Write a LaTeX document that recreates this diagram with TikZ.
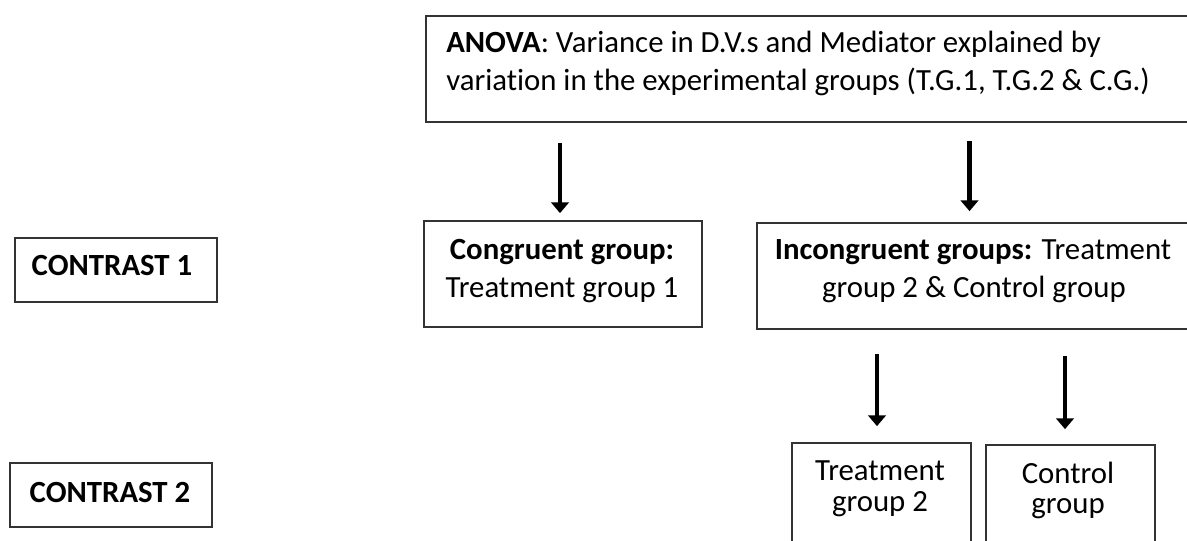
\documentclass[tikz,border=0pt]{standalone}
\usepackage{fontspec}
\setmainfont{Carlito}[Ligatures=NoCommon]
\usetikzlibrary{arrows.meta,calc,fit}

\tikzset{
  frame/.style={draw=black!80, line width=1.3pt, inner sep=0pt, fill=none},
  txt/.style={inner sep=0pt, anchor=base, font=\fontsize{23.1pt}{27pt}\selectfont},
  txtl/.style={txt, anchor=base west},
  flow/.style={draw=black, line width=3.6pt,
    -{Triangle[width=13pt,length=8pt]}},
}

\begin{document}
\begin{tikzpicture}[x=0.75pt, y=-0.75pt]
  \useasboundingbox (0,0) rectangle (1187,541);
  \clip (0,0) rectangle (1187,541);

  % frames
  \node[frame, fit={(426,16) (1192,122)}]  (anova)  {};
  \node[frame, fit={(15,238) (217,302)}]   (c1)     {};
  \node[frame, fit={(10,463) (212,527)}]   (c2)     {};
  \node[frame, fit={(424,221) (702,327)}]  (cong)   {};
  \node[frame, fit={(757,223) (1192,329)}] (incong) {};
  \node[frame, fit={(792,443) (971,570)}]  (tg2)    {};
  \node[frame, fit={(986,445) (1155,570)}] (cg)     {};

  % texts
  \node[txtl] (anova1) at (446,53) {\textbf{ANOVA}: Variance in D.V.s and Mediator explained by};
  \node[txtl] (anova2) at (446,91) {variation in the experimental groups (T.G.1, T.G.2 \& C.G.)};
  \node[txt] (c1t) at (112,276) {\textbf{CONTRAST 1}};
  \node[txt] (c2t) at (110,502) {\textbf{CONTRAST 2}};
  \node[txt] (cong1) at (562,260) {\textbf{Congruent group:}};
  \node[txt] (cong2) at (562,297) {Treatment group 1};
  \node[txt] (inc1) at (973,260) {\textbf{Incongruent groups:} Treatment};
  \node[txt] (inc2) at (974,297) {group 2 \& Control group};
  \node[txt] (tg2a) at (880,480) {Treatment};
  \node[txt] (tg2b) at (880,511) {group 2};
  \node[txt] (cga) at (1068,483) {Control};
  \node[txt] (cgb) at (1068,513) {group};

  % connectors
  \draw[flow] ($(cong.north |- anova.south)+(-3,20)$) -- ($(cong.north)+(-3,-7)$);
  \draw[flow] ($(incong.north |- anova.south)+(-5,18)$) -- ($(incong.north)+(-5,-11)$);
  \draw[flow] ($(tg2.north |- incong.south)+(-4.5,24)$) -- ($(tg2.north)+(-4.5,-16)$);
  \draw[flow] ($(cg.north |- incong.south)+(-5.5,26)$) -- ($(cg.north)+(-5.5,-15)$);
\end{tikzpicture}
\end{document}
